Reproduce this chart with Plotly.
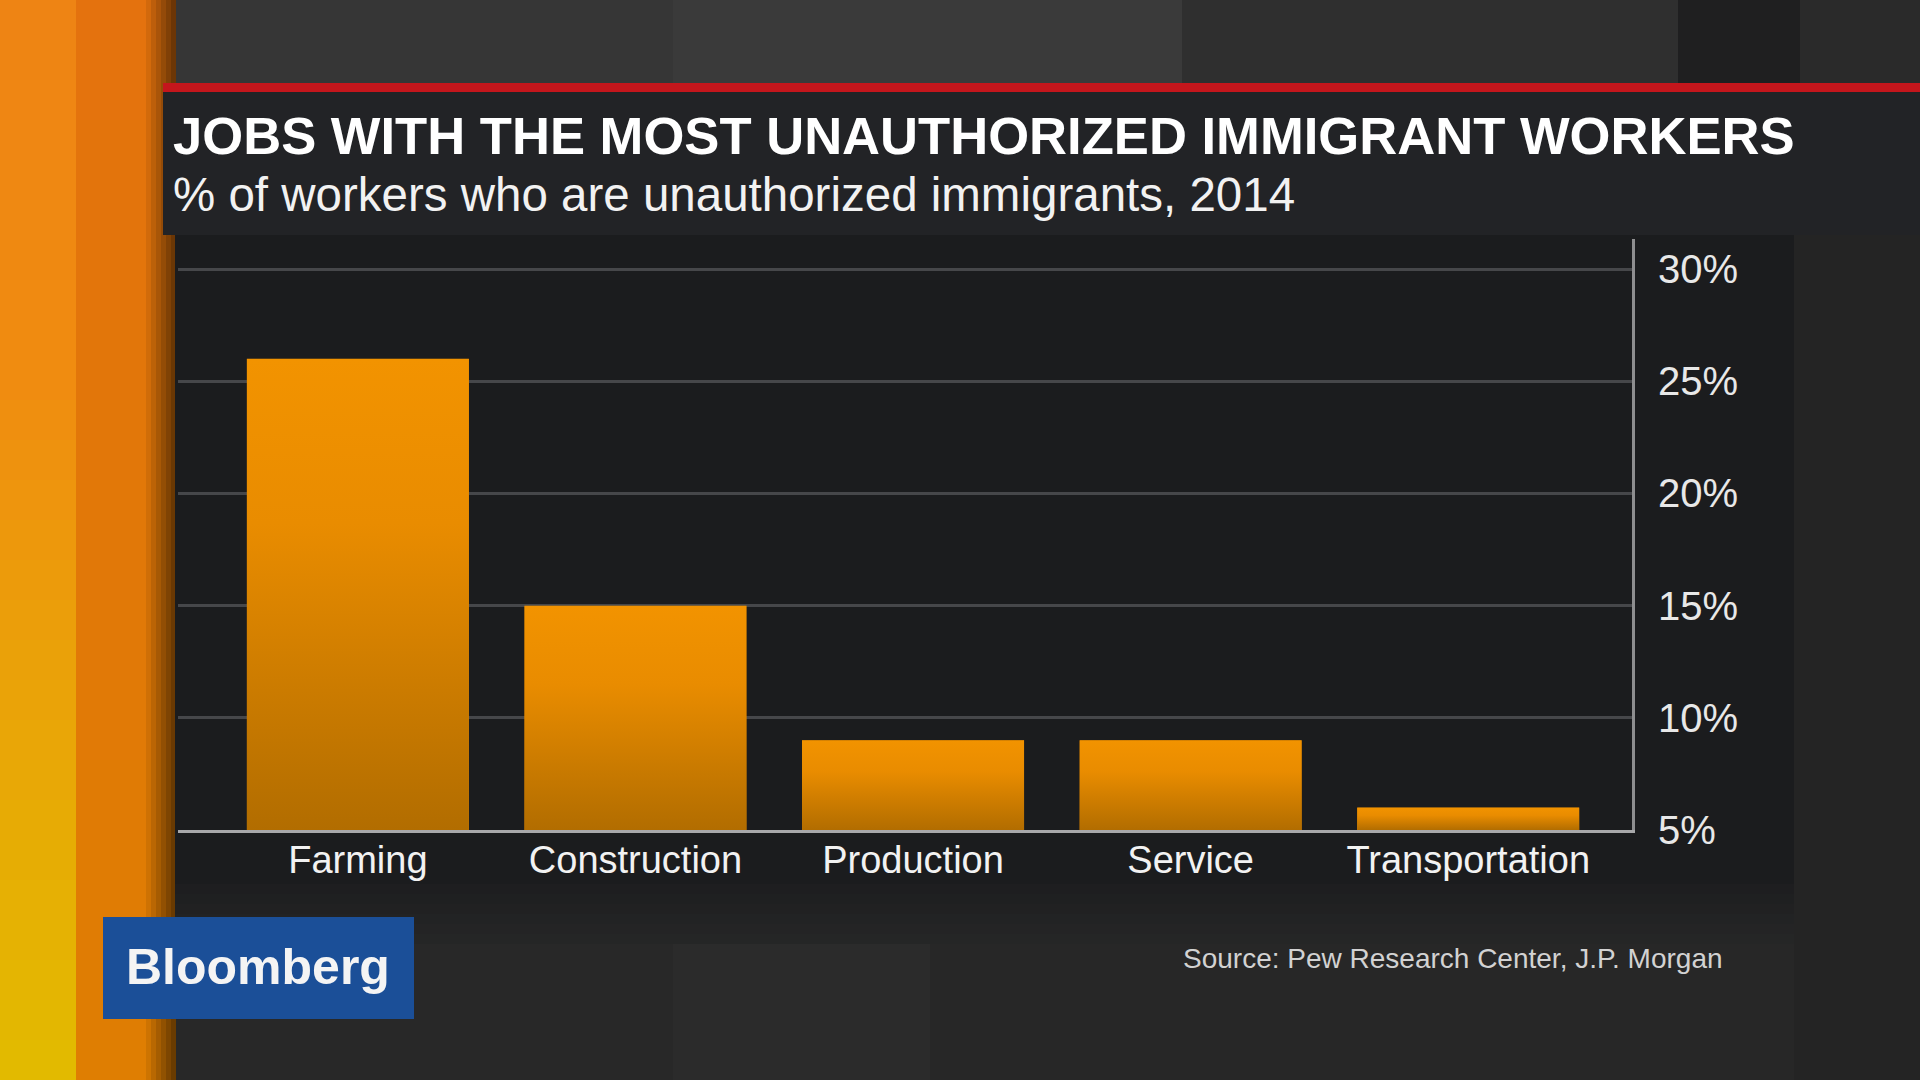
import base64
import plotly.graph_objects as go

# ---------------- data ----------------
categories = ["Farming", "Construction", "Production", "Service", "Transportation"]
values = [26, 15, 9, 9, 6]
y_tick_values = [5, 10, 15, 20, 25, 30]
y_tick_labels = ["5%", "10%", "15%", "20%", "25%", "30%"]
title_text = "JOBS WITH THE MOST UNAUTHORIZED IMMIGRANT WORKERS"
subtitle_text = "% of workers who are unauthorized immigrants, 2014"
source_text = "Source: Pew Research Center, J.P. Morgan"
logo_text = "Bloomberg"

# ---------------- geometry ----------------
W, H = 1920, 1080
PL, PR, PT, PB = 178, 1632, 239, 830
BASE = 5
YMAX = 31.34
FONT = "Liberation Sans, Arial, Helvetica, sans-serif"


def xp(px):
    return (px - PL) / (PR - PL)


def yp(py):
    return (PB - py) / (PB - PT)


def hex2rgb(h):
    h = h.lstrip("#")
    return tuple(int(h[i:i + 2], 16) for i in (0, 2, 4))


def lerp_color(stops, t):
    for (p0, c0), (p1, c1) in zip(stops[:-1], stops[1:]):
        if p0 <= t <= p1:
            f = 0 if p1 == p0 else (t - p0) / (p1 - p0)
            a, b = hex2rgb(c0), hex2rgb(c1)
            return "rgb(%d,%d,%d)" % tuple(round(a[k] + (b[k] - a[k]) * f) for k in range(3))
    return stops[-1][1]


shapes = []


def rect(x0, y0, x1, y1, color, layer="below"):
    shapes.append(dict(type="rect", xref="paper", yref="paper",
                       x0=xp(x0), x1=xp(x1), y0=yp(y1), y1=yp(y0),
                       fillcolor=color, line=dict(width=0), layer=layer))


# top band background
rect(175, 0, 673, 84, "#363636")
rect(673, 0, 1182, 84, "#3a3a3a")
rect(1182, 0, 1678, 84, "#2f2f2f")
rect(1678, 0, 1800, 84, "#1f1f20")
rect(1800, 0, 1920, 84, "#2a2a2a")
# lower background bands
rect(175, 880, 673, 1080, "#282828")
rect(673, 880, 930, 1080, "#2b2b2b")
rect(930, 880, 1794, 1080, "#272727")
rect(1794, 235, 1920, 1080, "#242424")

# left strip vertical gradients
N = 27
for i in range(N):
    y0 = H * i / N
    y1 = H * (i + 1) / N + 1
    t = (y0 + y1) / 2
    rect(0, y0, 76, y1, lerp_color([(0, "#ee8414"), (380, "#f08c10"), (680, "#eaa208"), (1080, "#e2bb00")], t))
    rect(76, y0, 176, y1, lerp_color([(0, "#e4720e"), (1080, "#df7e02")], t))
# right edge shading of strip
for k in range(6):
    x0 = 146 + k * 5
    rect(x0, 0, x0 + 5, H, "rgba(0,0,0,%.2f)" % (0.08 + 0.09 * k))

# panel and fade
rect(175, 235, 1794, 884, "#1b1c1e")
for k in range(6):
    y0 = 884 + k * 10
    rect(175, y0, 1794, y0 + 10, lerp_color([(0, "#1c1d1f"), (1, "#272727")], (k + 1) / 7))

# red line + title box
rect(163, 83, 1920, 92, "#c4161c")
rect(163, 92, 1920, 235, "#222326")

# Bloomberg logo box
rect(103, 917, 414, 1019, "#1b4f98")

# ---------------- bars ----------------
fig = go.Figure()
fig.add_trace(go.Bar(
    x=categories,
    y=[v - BASE for v in values],
    base=BASE,
    width=0.8,
    marker=dict(color="#e08600", line=dict(width=0)),
    hoverinfo="skip",
))

# gradient overlay per bar (styling), placed via the data axes
svg = ("<svg xmlns='http://www.w3.org/2000/svg' width='10' height='100' viewBox='0 0 10 100' "
       "preserveAspectRatio='none'><defs><linearGradient id='g' x1='0' y1='0' x2='0' y2='1'>"
       "<stop offset='0' stop-color='#f29300'/><stop offset='0.35' stop-color='#e98c00'/>"
       "<stop offset='1' stop-color='#b26d00'/></linearGradient></defs>"
       "<rect x='0' y='0' width='10' height='100' fill='url(#g)'/></svg>")
src = "data:image/svg+xml;base64," + base64.b64encode(svg.encode()).decode()
images = []
for i, v in enumerate(values):
    images.append(dict(source=src, xref="x", yref="y", x=i - 0.4, y=v,
                       sizex=0.8, sizey=v - BASE, xanchor="left", yanchor="top",
                       sizing="stretch", layer="above"))

annotations = [
    dict(text="<b>%s</b>" % title_text, x=xp(171), y=yp(135), xanchor="left", yanchor="middle",
         font=dict(family=FONT, size=52.6, color="#ffffff")),
    dict(text=subtitle_text, x=xp(171), y=yp(194), xanchor="left", yanchor="middle",
         font=dict(family=FONT, size=47.5, color="#f2f2f2")),
    dict(text=source_text, x=xp(1725), y=yp(958), xanchor="right", yanchor="middle",
         font=dict(family=FONT, size=28, color="#d2d2d2")),
    dict(text="<b>%s</b>" % logo_text, x=xp(258), y=yp(967), xanchor="center", yanchor="middle",
         font=dict(family=FONT, size=50, color="#f4f4f4")),
]
for a in annotations:
    a.update(xref="paper", yref="paper", showarrow=False)

fig.update_layout(
    width=W, height=H,
    margin=dict(l=PL, r=W - PR, t=PT, b=H - PB, pad=0),
    paper_bgcolor="#262626",
    plot_bgcolor="rgba(0,0,0,0)",
    showlegend=False,
    bargap=0.2,
    shapes=shapes,
    images=images,
    annotations=annotations,
    xaxis=dict(type="category", range=[-0.648, 4.59], showgrid=False, zeroline=False,
               showline=True, linecolor="#a8a8aa", linewidth=3, ticks="",
               tickfont=dict(family=FONT, size=38, color="#f2f2f2"), ticklabelstandoff=-6),
    yaxis=dict(side="right", range=[BASE, YMAX], tickvals=y_tick_values, ticktext=y_tick_labels,
               showgrid=True, gridcolor="#46474a", gridwidth=3, zeroline=False,
               showline=True, linecolor="#8e8e90", linewidth=3, ticks="",
               tickfont=dict(family=FONT, size=40, color="#e8e8e8"), ticklabelstandoff=15),
)

fig.write_html("out.html")
